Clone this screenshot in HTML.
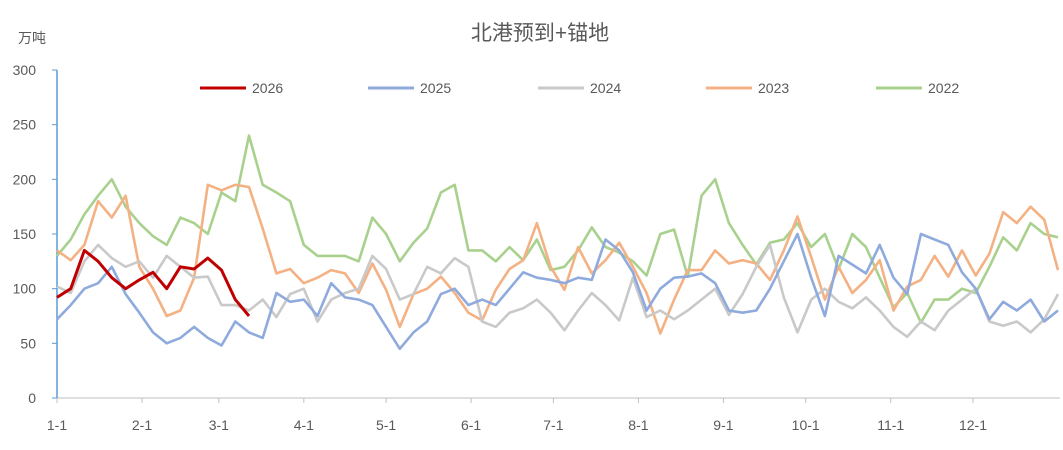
<!DOCTYPE html>
<html><head><meta charset="utf-8">
<style>
body{margin:0;background:#fff;}
svg text{font-family:"Liberation Sans","Noto Sans CJK SC",sans-serif;fill:#595959;}
</style></head>
<body>
<svg id="chart" width="1063" height="445" xmlns="http://www.w3.org/2000/svg">
<rect width="1063" height="445" fill="#fff"/>
<text x="540" y="40" font-size="21" text-anchor="middle">北港预到+锚地</text>
<text x="18" y="43" font-size="14">万吨</text>
<g id="grid"></g>
<g id="series"></g>
<g id="legend"></g>
</svg>
<script>
const yTicks=[0,50,100,150,200,250,300];
const monthLabels=["1-1","2-1","3-1","4-1","5-1","6-1","7-1","8-1","9-1","10-1","11-1","12-1"];
const monthDays=[0,31,59,90,120,151,181,212,243,273,304,334];
const seriesNames=["2026","2025","2024","2023","2022"];
const stepDays=5;
const v2026=[92,100,135,125,110,100,108,115,100,120,118,128,117,90,75];
const v2025=[72,85,100,105,120,95,78,60,50,55,65,55,48,70,60,55,96,88,90,75,105,92,90,85,65,45,60,70,95,100,85,90,85,100,115,110,108,105,110,108,145,135,115,80,100,110,111,114,105,80,78,80,100,125,150,110,75,130,122,114,140,110,95,150,145,140,115,100,72,88,80,90,70,80];
const v2024=[102,96,125,140,128,120,125,110,130,120,110,111,85,85,80,90,74,95,100,70,90,96,100,130,118,90,95,120,114,128,120,70,65,78,82,90,78,62,80,96,85,71,110,74,80,72,80,90,100,76,95,120,140,92,60,90,100,88,82,92,80,65,56,70,62,80,90,100,70,66,70,60,72,95];
const v2023=[135,126,140,180,165,185,120,100,75,80,110,195,190,195,193,155,114,118,105,110,117,114,96,123,99,65,95,100,111,96,78,71,99,118,126,160,120,99,138,114,126,142,120,96,59,90,117,117,135,123,126,123,108,135,166,129,90,120,96,108,126,80,102,108,130,111,135,112,132,170,160,175,163,117];
const v2022=[130,145,168,185,200,175,160,148,140,165,160,150,188,180,240,195,188,180,140,130,130,130,125,165,150,125,142,155,188,195,135,135,125,138,126,145,117,120,135,156,138,133,125,112,150,154,111,185,200,160,140,122,142,145,160,138,150,118,150,138,110,83,96,69,90,90,100,96,120,147,135,160,150,147];
const colors={"2026":"#C00000","2025":"#8FAADC","2024":"#C9C9C9","2023":"#F4B183","2022":"#A9D18E"};
const X0=57,X1=1058,Y0=398,Y1=70;
function xs(d){return X0+(X1-X0)*d/365;}
function ys(v){return Y0-(Y0-Y1)*v/300;}
const NS="http://www.w3.org/2000/svg";
const grid=document.getElementById('grid');
function mk(tag,attrs,parent){const e=document.createElementNS(NS,tag);for(const k in attrs)e.setAttribute(k,attrs[k]);parent.appendChild(e);return e;}
const xAxis=mk('line',{x1:X0,x2:X1+2,y1:Y0,y2:Y0,stroke:'#BFBFBF','stroke-width':1},grid);


const yAxis=mk('line',{x1:X0,x2:X0,y1:Y1,y2:Y0,stroke:'#5B9BD5','stroke-width':1.5},grid);


yTicks.forEach(t=>{
  const tk=mk('line',{x1:X0-5,x2:X0,y1:ys(t),y2:ys(t),stroke:'#5B9BD5'},grid);
  
  
  const tx=mk('text',{x:36,y:ys(t)+5,'font-size':14,'text-anchor':'end'},grid);
  tx.textContent=t;
  
  
});
monthLabels.forEach((m,i)=>{
  const x=xs(monthDays[i]);
  const tk=mk('line',{x1:x,x2:x,y1:Y0,y2:Y0+5,stroke:'#BFBFBF'},grid);
  
  
  const tx=mk('text',{x:x,y:430,'font-size':14,'text-anchor':'middle'},grid);
  tx.textContent=m;
  
  
});
const data={"2026":v2026,"2025":v2025,"2024":v2024,"2023":v2023,"2022":v2022};
const sg=document.getElementById('series');
["2022","2023","2024","2025","2026"].forEach(n=>{
  const pts=data[n].map((v,i)=>xs(Math.min(i*stepDays,365)).toFixed(1)+','+ys(v).toFixed(1)).join(' ');
  const p=mk('polyline',{points:pts,fill:'none',stroke:colors[n],'stroke-width':n==="2026"?3:2.6,'stroke-linejoin':'round'},sg);
  
  
});
const lg=document.getElementById('legend');
const legX=[200,368,538,706,876];
seriesNames.forEach((n,i)=>{
  const g=mk('g',{},lg);
  
  
  mk('line',{x1:legX[i],x2:legX[i]+46,y1:88,y2:88,stroke:colors[n],'stroke-width':3},g);
  const t=mk('text',{x:legX[i]+52,y:93,'font-size':14},g);
  t.textContent=n;
});
</script>
</body></html>
